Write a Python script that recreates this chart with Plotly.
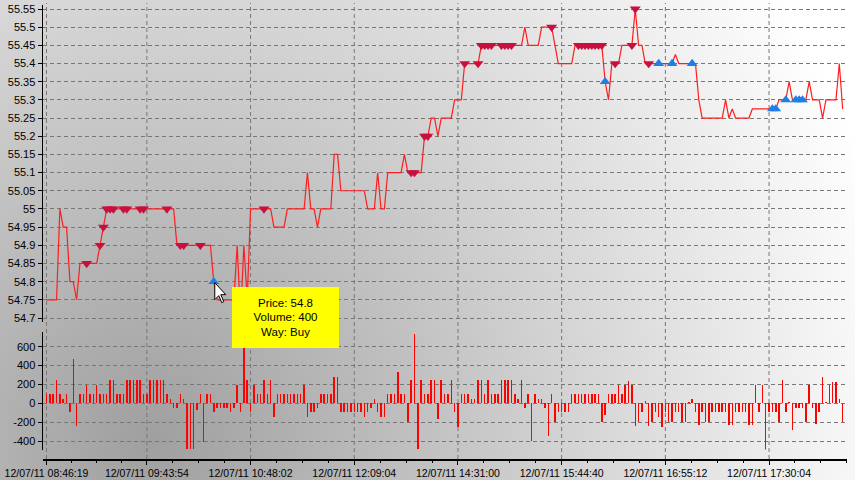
import base64
import plotly.graph_objects as go

# ---------------- data ----------------
PRICE = [
    54.75, 54.75, 54.75, 54.75, 55.0, 54.95, 54.95, 54.8, 54.8, 54.75,
    54.85, 54.85, 54.85, 54.85, 54.85, 54.85, 54.9, 54.95, 55.0, 55.0,
    55.0, 55.0, 55.0, 55.0, 55.0, 55.0, 55.0, 55.0, 55.0, 55.0,
    55.0, 55.0, 55.0, 55.0, 55.0, 55.0, 55.0, 55.0, 55.0, 54.9,
    54.9, 54.9, 54.9, 54.9, 54.9, 54.9, 54.9, 54.9, 54.9, 54.9,
    54.8, 54.75, 54.75, 54.75, 54.75, 54.75, 54.75, 54.9, 54.7, 54.9,
    54.75, 55.0, 55.0, 55.0, 55.0, 55.0, 55.0, 55.0, 54.95, 54.95,
    54.95, 54.95, 55.0, 55.0, 55.0, 55.0, 55.0, 55.0, 55.1, 55.0,
    55.0, 54.95, 55.0, 55.0, 55.0, 55.0, 55.15, 55.15, 55.05, 55.05,
    55.05, 55.05, 55.05, 55.05, 55.05, 55.05, 55.0, 55.0, 55.0, 55.1,
    55.0, 55.0, 55.1, 55.1, 55.1, 55.1, 55.1, 55.15, 55.1, 55.1,
    55.1, 55.1, 55.1, 55.2, 55.2, 55.25, 55.25, 55.2, 55.25, 55.25,
    55.25, 55.25, 55.3, 55.3, 55.3, 55.4, 55.4, 55.4, 55.4, 55.4,
    55.45, 55.45, 55.45, 55.45, 55.45, 55.45, 55.45, 55.45, 55.45, 55.45,
    55.45, 55.45, 55.45, 55.5, 55.45, 55.45, 55.45, 55.45, 55.5, 55.5,
    55.5, 55.5, 55.45, 55.4, 55.4, 55.4, 55.4, 55.4, 55.45, 55.45,
    55.45, 55.45, 55.45, 55.45, 55.45, 55.45, 55.45, 55.35, 55.3, 55.4,
    55.4, 55.4, 55.45, 55.45, 55.45, 55.45, 55.55, 55.45, 55.45, 55.4,
    55.4, 55.4, 55.4, 55.4, 55.4, 55.4, 55.4, 55.4, 55.425, 55.4,
    55.4, 55.4, 55.4, 55.4, 55.4, 55.3, 55.25, 55.25, 55.25, 55.25,
    55.25, 55.25, 55.25, 55.3, 55.25, 55.275, 55.25, 55.25, 55.25, 55.25,
    55.25, 55.275, 55.275, 55.275, 55.275, 55.275, 55.275, 55.275, 55.275, 55.3,
    55.3, 55.3, 55.35, 55.3, 55.3, 55.3, 55.3, 55.3, 55.35, 55.3,
    55.3, 55.3, 55.25, 55.3, 55.3, 55.3, 55.3, 55.4, 55.275,
]

VOLUME = [
    100, 100, 100, 250, 100, 50, 100, -90, 470, -240,
    100, 100, 200, 100, 100, 200, 100, 100, 100, 250,
    250, 100, 100, 100, 250, 250, 250, 250, 250, 100,
    100, 250, 250, 250, 250, 250, 100, 50, -50, -50,
    100, 50, -480, -480, -480, -70, 100, -410, 100, 100,
    -90, -50, -50, -50, -50, -90, -50, 200, -90, 600,
    250, -90, 200, 100, 100, 250, 100, 250, -140, 100,
    100, 100, 100, 100, 100, 100, 100, 200, -140, -90,
    -90, -50, 100, 100, 100, 100, 280, 280, -90, -90,
    -90, -90, -90, -90, -90, -140, -90, -50, 50, -90,
    -140, -140, 100, 100, 100, 330, 100, 100, -200, 250,
    740, -480, 250, 100, 100, 250, 250, -160, 250, 100,
    100, 250, -90, -250, 100, 100, 100, 50, 50, 250,
    250, 100, 250, 100, 100, 100, 250, 250, 250, 250,
    100, 50, 250, -50, 100, -400, 100, 50, 50, -50,
    -340, 100, -200, -90, -90, -90, -90, 100, 100, 100,
    100, 100, 100, 100, 100, 100, -200, -120, 100, 100,
    100, 200, 100, 200, 240, 200, -240, -200, -90, 25,
    -240, -200, -90, -140, -250, -90, -200, -200, -90, -90,
    -200, -200, 20, 50, -90, -230, -90, -200, -200, -90,
    -90, -90, -90, -90, -230, -230, -90, -90, -90, -90,
    -230, -230, 200, -90, 200, -490, -90, -90, -90, -200,
    250, -90, 20, -280, -50, -50, -50, -200, 200, -50,
    -220, -90, 280, 20, 200, 230, 230, 50, -200,
]

SELL_IDX = [12, 16, 17, 18, 19, 20, 23, 24, 28, 29, 36, 40, 41, 46, 65,
            109, 110, 113, 114, 125, 129, 130, 131, 132, 133,
            136, 137, 138, 139, 151, 159, 160, 161, 162, 163, 164, 165, 166,
            170, 175, 176, 180]
BUY_IDX = [50, 167, 183, 187, 193, 217, 218, 221, 224, 225, 226]

TIME_LABEL_IDX = [0, 30, 61, 92, 123, 154, 185, 216]
TIME_LABELS = ["12/07/11 08:46:19", "12/07/11 09:43:54", "12/07/11 10:48:02",
               "12/07/11 12:09:04", "12/07/11 14:31:00", "12/07/11 15:44:40",
               "12/07/11 16:55:12", "12/07/11 17:30:04"]

PRICE_TICKS = [54.7, 54.75, 54.8, 54.85, 54.9, 54.95, 55.0, 55.05, 55.1,
               55.15, 55.2, 55.25, 55.3, 55.35, 55.4, 55.45, 55.5, 55.55]
PRICE_TICK_TEXT = ["54.7", "54.75", "54.8", "54.85", "54.9", "54.95", "55",
                   "55.05", "55.1", "55.15", "55.2", "55.25", "55.3", "55.35",
                   "55.4", "55.45", "55.5", "55.55"]
VOLUME_TICKS = [-400, -200, 0, 200, 400, 600]
VOLUME_TICK_TEXT = ["-400", "-200", "0", "200", "400", "600"]

TIP_INDEX = 50
TIP_PRICE = 54.8
TIP_VOLUME = 400
TIP_WAY = "Buy"

# ---------------- layout geometry / styles ----------------
W, H = 855, 480
FONT = "Liberation Sans, Arial, sans-serif"
GRID = "#777777"
DASH = "4px,3px"

X_LEFT_PX, X_RIGHT_PX = 43, 847
X_DOMAIN = [X_LEFT_PX / W, X_RIGHT_PX / W]
X_RANGE = [-1.05, 239.3]
PX_PER_UNIT = (X_RIGHT_PX - X_LEFT_PX) / (X_RANGE[1] - X_RANGE[0])
BAR_WIDTH = 1.5 / PX_PER_UNIT
PRICE_DOMAIN = [1 - 322 / H, 1 - 5 / H]
PRICE_RANGE = [54.689, 55.561]
VOL_DOMAIN = [1 - 449.5 / H, 1 - 332 / H]
VOL_RANGE = [-488, 756]
XAXIS_POS = 1 - 459 / H

idx = list(range(len(PRICE)))

# minor ticks at quarter intervals between labelled ticks
minor_vals = []
for a, b in zip(TIME_LABEL_IDX[:-1], TIME_LABEL_IDX[1:]):
    step = (b - a) / 4
    minor_vals += [a + step * k for k in (1, 2, 3)]
step = (TIME_LABEL_IDX[-1] - TIME_LABEL_IDX[-2]) / 4
v = TIME_LABEL_IDX[-1] + step
while v < X_RANGE[1]:
    minor_vals.append(v)
    v += step

svg = (
    f"<svg xmlns='http://www.w3.org/2000/svg' width='{W}' height='{H}'>"
    "<defs><radialGradient id='g' gradientUnits='userSpaceOnUse' cx='150' cy='440' r='770'>"
    "<stop offset='0' stop-color='#9f9f9f'/><stop offset='1' stop-color='#ffffff'/>"
    "</radialGradient></defs>"
    f"<rect width='{W}' height='{H}' fill='url(#g)'/></svg>"
)
bg_src = "data:image/svg+xml;base64," + base64.b64encode(svg.encode()).decode()

fig = go.Figure()

fig.add_trace(go.Scatter(
    x=idx, y=PRICE, mode="lines", line=dict(color="#ff1e1e", width=1.2),
    xaxis="x", yaxis="y", hoverinfo="skip", showlegend=False))

fig.add_trace(go.Scatter(
    x=SELL_IDX, y=[PRICE[i] for i in SELL_IDX], mode="markers",
    marker=dict(symbol="triangle-down", size=9.5, color="#c8103e", line=dict(width=0)),
    xaxis="x", yaxis="y", hoverinfo="skip", showlegend=False))

fig.add_trace(go.Scatter(
    x=BUY_IDX, y=[PRICE[i] for i in BUY_IDX], mode="markers",
    marker=dict(symbol="triangle-up", size=9.5, color="#1f7fe6", line=dict(width=0)),
    xaxis="x", yaxis="y", hoverinfo="skip", showlegend=False))

fig.add_trace(go.Bar(
    x=idx, y=VOLUME, width=BAR_WIDTH,
    marker=dict(color="rgba(255,0,0,0.995)", line=dict(width=0)),
    xaxis="x2", yaxis="y2", hoverinfo="skip", showlegend=False))

shapes = []
for t in TIME_LABEL_IDX:
    shapes.append(dict(type="line", xref="x", yref="paper", x0=t, x1=t,
                       y0=XAXIS_POS, y1=1 - 3 / H,
                       line=dict(color=GRID, width=1, dash=DASH), layer="below"))
# mouse cursor resting on the hovered trade
shapes.append(dict(
    type="path", xref="x", yref="y", xsizemode="pixel", ysizemode="pixel",
    xanchor=TIP_INDEX, yanchor=TIP_PRICE,
    path="M 1 -1 L 1 -18 L 5 -14 L 8 -21 L 10 -20 L 7 -13 L 12 -13 Z",
    fillcolor="white", line=dict(color="black", width=1), layer="above"))

axis_font = dict(family=FONT, size=11, color="black")

fig.update_layout(
    width=W, height=H, template="none",
    margin=dict(l=0, r=0, t=0, b=0, pad=0),
    paper_bgcolor="#d0d0d0", plot_bgcolor="rgba(0,0,0,0)",
    showlegend=False, bargap=0,
    images=[dict(source=bg_src, xref="paper", yref="paper", x=0, y=1,
                 sizex=1, sizey=1, sizing="stretch", xanchor="left",
                 yanchor="top", layer="below")],
    shapes=shapes,
    xaxis=dict(domain=X_DOMAIN, range=X_RANGE, anchor="y", showgrid=False,
               zeroline=False, showline=False, showticklabels=False, ticks="",
               automargin=False),
    xaxis2=dict(domain=X_DOMAIN, range=X_RANGE, anchor="free", position=XAXIS_POS,
                showgrid=False, zeroline=False, showline=True, linecolor="black",
                linewidth=1.5, tickmode="array", tickvals=TIME_LABEL_IDX,
                ticktext=TIME_LABELS, ticks="outside", ticklen=4, tickwidth=1,
                tickcolor="black", tickfont=dict(family=FONT, size=10.5, color="black"),
                minor=dict(tickmode="array", tickvals=minor_vals, ticks="outside",
                           ticklen=2, tickcolor="black", showgrid=False),
                automargin=False),
    yaxis=dict(domain=PRICE_DOMAIN, range=PRICE_RANGE, anchor="x",
               tickmode="array", tickvals=PRICE_TICKS, ticktext=PRICE_TICK_TEXT,
               ticks="outside", ticklen=4, tickcolor="black", tickfont=axis_font,
               showline=True, linecolor="black", linewidth=1.5,
               showgrid=True, gridcolor=GRID, gridwidth=1, griddash=DASH,
               zeroline=False, automargin=False),
    yaxis2=dict(domain=VOL_DOMAIN, range=VOL_RANGE, anchor="x2",
                tickmode="array", tickvals=VOLUME_TICKS, ticktext=VOLUME_TICK_TEXT,
                ticks="outside", ticklen=4, tickcolor="black", tickfont=axis_font,
                showline=True, linecolor="black", linewidth=1.5,
                showgrid=True, gridcolor=GRID, gridwidth=1, griddash=DASH,
                zeroline=False, automargin=False),
    annotations=[dict(
        x=TIP_INDEX, y=TIP_PRICE, xref="x", yref="y",
        text=f"Price: {TIP_PRICE}<br>Volume: {TIP_VOLUME}<br>Way: {TIP_WAY}",
        showarrow=False, xanchor="left", yanchor="top", xshift=18, yshift=-5.6,
        bgcolor="#ffff00", width=107, height=61, borderpad=0, borderwidth=0,
        align="center", valign="middle",
        font=dict(family=FONT, size=11.5, color="#000000"))],
)

fig.write_html("out.html", config={"displayModeBar": False, "staticPlot": True},
               post_script="document.body.style.margin='0px';")
